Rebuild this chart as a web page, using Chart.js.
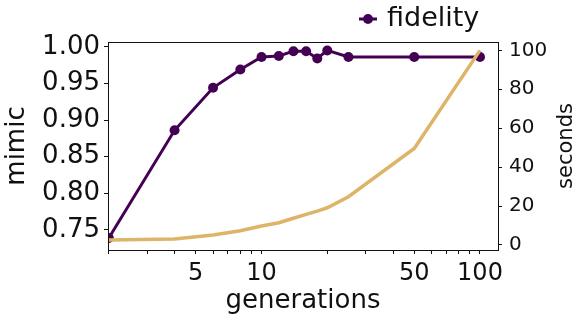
<!DOCTYPE html>
<html>
<head>
<meta charset="utf-8">
<script src="https://cdn.jsdelivr.net/npm/chart.js@4/dist/chart.umd.min.js"></script>
<style>
  html, body { margin: 0; padding: 0; background: #fff; }
  #wrap { width: 586px; height: 324px; }
</style>
</head>
<body>
<div id="wrap"><canvas id="chart" width="586" height="324"></canvas></div>
<script>
// values
const generations = [2, 4, 6, 8, 10, 12, 14, 16, 18, 20, 25, 50, 100];
const fidelity = [0.739, 0.886, 0.944, 0.969, 0.986, 0.9875, 0.994, 0.994, 0.984, 0.995, 0.986, 0.986, 0.986];
const seconds = [2.6, 3.1, 5.1, 7.3, 9.7, 11.4, 13.7, 15.7, 17.4, 19.1, 24.8, 49.6, 100];

const xTicks = [2, 3, 4, 5, 6, 7, 8, 9, 10, 20, 30, 40, 50, 60, 70, 80, 90, 100];
const xLabeled = [5, 10, 50, 100];
const mimicTicks = [0.75, 0.8, 0.85, 0.9, 0.95, 1.0];
const secondsTicks = [0, 20, 40, 60, 80, 100];

const purple = "#440154";
const gold = "#ddb468";
const ink = "#111";

Chart.defaults.font.family = "'DejaVu Sans', sans-serif";
Chart.defaults.color = ink;

// matplotlib style frame, legend and right axis label
const framePlugin = {
  id: "frame",
  afterDraw(chart) {
    const { ctx, chartArea: a } = chart;
    ctx.save();
    ctx.strokeStyle = ink;
    ctx.lineWidth = 1;
    ctx.strokeRect(a.left + 0.5, a.top + 0.5, a.right - a.left, a.bottom - a.top);

    // legend
    ctx.strokeStyle = purple;
    ctx.lineWidth = 3;
    ctx.beginPath();
    ctx.moveTo(359, 19);
    ctx.lineTo(377, 19);
    ctx.stroke();
    ctx.fillStyle = purple;
    ctx.beginPath();
    ctx.arc(368, 19, 5, 0, Math.PI * 2);
    ctx.fill();
    ctx.fillStyle = ink;
    ctx.font = "27px 'DejaVu Sans'";
    ctx.textBaseline = "alphabetic";
    ctx.textAlign = "left";
    ctx.fillText("fidelity", 387, 26);

    // "seconds" reads bottom to top, as in matplotlib
    ctx.translate(567, (a.top + a.bottom) / 2);
    ctx.rotate(-Math.PI / 2);
    ctx.font = "21px 'DejaVu Sans'";
    ctx.textAlign = "center";
    ctx.textBaseline = "middle";
    ctx.fillText("seconds", 0, 0);
    ctx.restore();
  },
};

const tickGrid = (len) => ({
  drawOnChartArea: false,
  drawTicks: true,
  tickLength: len,
  tickColor: ink,
  tickWidth: 1,
});

new Chart(document.getElementById("chart"), {
  type: "line",
  data: {
    datasets: [
      {
        label: "fidelity",
        data: generations.map((g, i) => ({ x: g, y: fidelity[i] })),
        yAxisID: "y",
        borderColor: purple,
        backgroundColor: purple,
        borderWidth: 3,
        pointRadius: 5,
        pointBorderWidth: 0,
        pointBackgroundColor: purple,
        tension: 0,
        clip: 0,
        order: 1,
      },
      {
        label: "seconds",
        data: generations.map((g, i) => ({ x: g, y: seconds[i] })),
        yAxisID: "y1",
        borderColor: gold,
        borderWidth: 3.5,
        pointRadius: 0,
        tension: 0,
        clip: 0,
        order: 0,
      },
    ],
  },
  options: {
    responsive: false,
    animation: false,
    layout: { padding: { top: 42, left: 0, right: 0, bottom: 0 } },
    plugins: {
      legend: { display: false },
      tooltip: { enabled: false },
    },
    scales: {
      x: {
        type: "logarithmic",
        min: 1.983,
        max: 120.9,
        afterBuildTicks: (scale) => {
          scale.ticks = xTicks.map((v) => ({ value: v }));
        },
        afterFit: (scale) => {
          scale.height = 74;
        },
        ticks: {
          autoSkip: false,
          maxRotation: 0,
          padding: 5,
          font: { size: 24 },
          callback: (v) => (xLabeled.includes(v) ? String(v) : ""),
        },
        grid: tickGrid(4),
        border: { display: true, color: ink, width: 1 },
        title: {
          display: true,
          text: "generations",
          font: { size: 26 },
          padding: { top: 0, bottom: 7 },
        },
      },
      y: {
        position: "left",
        min: 0.7227,
        max: 1.0065,
        afterBuildTicks: (scale) => {
          scale.ticks = mimicTicks.map((v) => ({ value: v }));
        },
        afterFit: (scale) => {
          scale.width = 108;
        },
        ticks: {
          padding: 4,
          font: { size: 26 },
          callback: (v) => Number(v).toFixed(2),
        },
        grid: tickGrid(4),
        border: { display: true, color: ink, width: 1 },
        title: {
          display: true,
          text: "mimic",
          font: { size: 26 },
          padding: { top: 2, bottom: 0 },
        },
      },
      y1: {
        position: "right",
        min: -2.6,
        max: 104.3,
        afterBuildTicks: (scale) => {
          scale.ticks = secondsTicks.map((v) => ({ value: v }));
        },
        afterFit: (scale) => {
          scale.width = 88;
        },
        ticks: {
          padding: 7,
          font: { size: 20 },
          callback: (v) => String(v),
        },
        grid: tickGrid(4),
        border: { display: true, color: ink, width: 1 },
        title: { display: false },
      },
    },
  },
  plugins: [framePlugin],
});
</script>
</body>
</html>
